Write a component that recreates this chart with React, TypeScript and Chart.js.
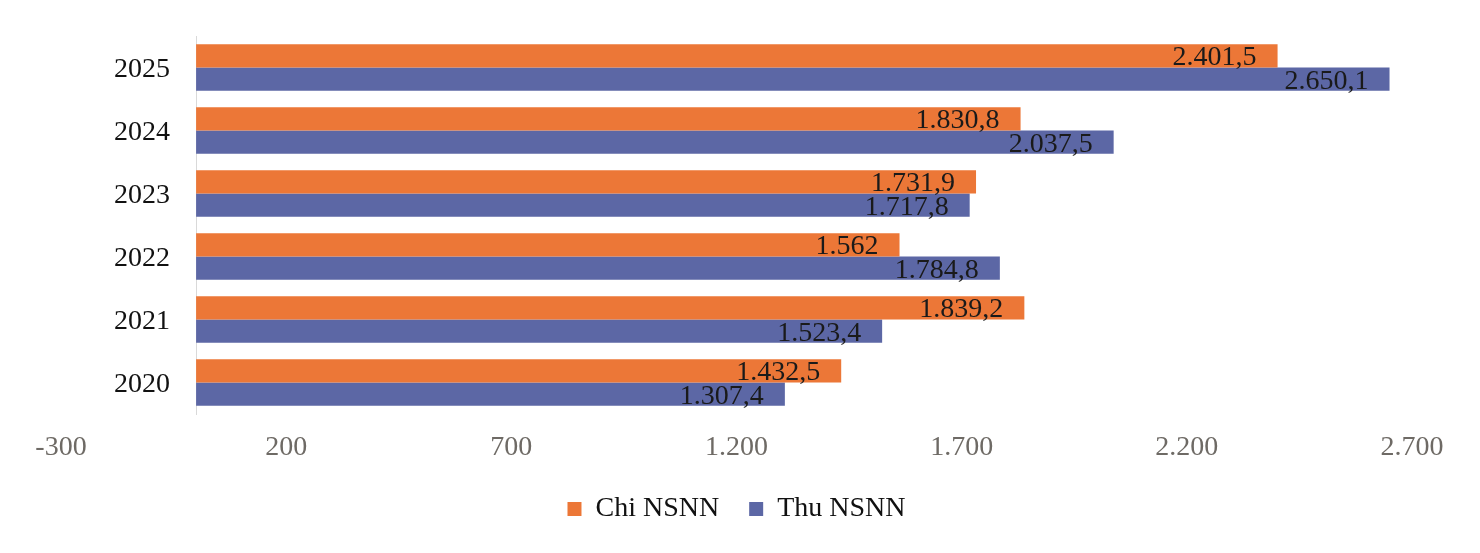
import { useEffect, useRef } from "react";
import { Chart, registerables } from "chart.js";

Chart.register(...registerables);

const years = ["2025", "2024", "2023", "2022", "2021", "2020"];
const chiNSNN = [2401.5, 1830.8, 1731.9, 1562, 1839.2, 1432.5];
const thuNSNN = [2650.1, 2037.5, 1717.8, 1784.8, 1523.4, 1307.4];
const seriesNames = ["Chi NSNN", "Thu NSNN"];
const xMin = -300;
const xMax = 2700;
const xStep = 500;

const FONT = "'Liberation Serif', 'Times New Roman', serif";
const ORANGE = "#EC7737";
const BLUE = "#5C67A5";

function fmtVN(v: number): string {
  const neg = v < 0;
  const r = Math.round(Math.abs(v) * 10) / 10;
  const intPart = Math.floor(r);
  const dec = Math.round((r - intPart) * 10);
  const s = String(intPart).replace(/\B(?=(\d{3})+(?!\d))/g, ".");
  return (neg ? "-" : "") + s + (dec ? "," + dec : "");
}

// value labels inside the end of each bar
const barLabels = {
  id: "barLabels",
  afterDatasetsDraw(chart: any) {
    const ctx = chart.ctx;
    ctx.save();
    ctx.font = `28px ${FONT}`;
    ctx.fillStyle = "#1A1A1A";
    ctx.textAlign = "right";
    ctx.textBaseline = "alphabetic";
    chart.data.datasets.forEach((ds: any, i: number) => {
      const meta = chart.getDatasetMeta(i);
      meta.data.forEach((bar: any, j: number) => {
        ctx.fillText(fmtVN(ds.data[j]), bar.x - 21, bar.y + 9.5);
      });
    });
    ctx.restore();
  },
};

// category labels to the left of the axis line crossing at x = 0
const categoryLabels = {
  id: "categoryLabels",
  afterDraw(chart: any) {
    const ctx = chart.ctx;
    const xs = chart.scales.x;
    const ys = chart.scales.y;
    const x0 = xs.getPixelForValue(0);
    ctx.save();
    ctx.font = `28px ${FONT}`;
    ctx.fillStyle = "#111111";
    ctx.textAlign = "right";
    ctx.textBaseline = "alphabetic";
    ys.ticks.forEach((t: any, i: number) => {
      const label = chart.data.labels[t.value];
      ctx.fillText(String(label), x0 - 26, ys.getPixelForTick(i) + 9.5);
    });
    ctx.restore();
  },
};

export default function App() {
  const ref = useRef<HTMLCanvasElement | null>(null);

  useEffect(() => {
    document.body.style.margin = "0";
    const canvas = ref.current;
    if (!canvas) return;
    const chart = new Chart(canvas, {
      type: "bar",
      data: {
        labels: years,
        datasets: [
          {
            label: seriesNames[0],
            data: chiNSNN,
            backgroundColor: ORANGE,
            borderWidth: 0,
            categoryPercentage: 0.737,
            barPercentage: 1,
          },
          {
            label: seriesNames[1],
            data: thuNSNN,
            backgroundColor: BLUE,
            borderWidth: 0,
            categoryPercentage: 0.737,
            barPercentage: 1,
          },
        ],
      },
      options: {
        indexAxis: "y",
        responsive: false,
        animation: false,
        layout: { padding: { left: 61, right: 68, top: 36, bottom: 20 } },
        scales: {
          x: {
            type: "linear",
            min: xMin,
            max: xMax,
            grid: { display: false, drawTicks: false },
            border: { display: false },
            afterFit: (s: any) => {
              s.height = 51;
            },
            ticks: {
              stepSize: xStep,
              padding: 17,
              color: "#6E6A65",
              font: { family: FONT, size: 28 },
              callback: (v: any) => fmtVN(Number(v)),
              autoSkip: false,
              maxRotation: 0,
            },
          },
          y: {
            type: "category",
            position: { x: 0 } as any,
            grid: { display: false, drawTicks: false },
            border: { display: true, color: "#D9D9D9", width: 1 },
            ticks: { display: false },
          },
        },
        plugins: {
          legend: {
            position: "bottom",
            labels: {
              boxWidth: 14,
              boxHeight: 14,
              padding: 30,
              color: "#111111",
              font: { family: FONT, size: 28 },
            },
          },
          tooltip: { enabled: false },
        },
      },
      plugins: [barLabels, categoryLabels],
    });
    return () => chart.destroy();
  }, []);

  return (
    <div style={{ width: 1480, height: 553, background: "#fff" }}>
      <canvas ref={ref} width={1480} height={553} style={{ display: "block" }} />
    </div>
  );
}
